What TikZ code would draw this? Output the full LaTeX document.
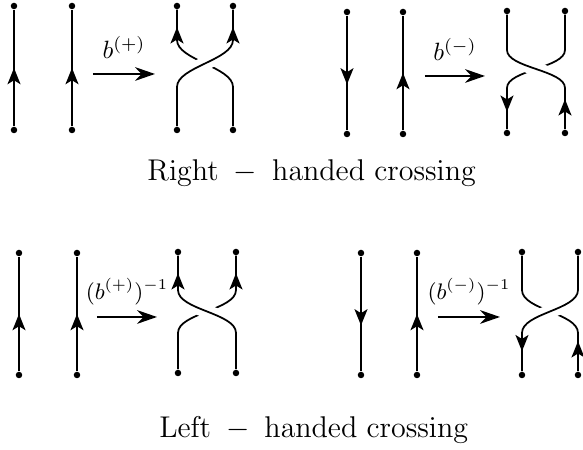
\documentclass[tikz,border=0pt]{standalone}
\usepackage{amsmath,amssymb}
\usepackage{tikz}
\usetikzlibrary{arrows.meta,decorations.markings}

\begin{document}
\begin{tikzpicture}[x=0.4pt,y=-0.4pt,
  dot/.style={circle,fill=black,inner sep=0pt,minimum size=2.6pt},
  strand/.style={line width=0.7pt},
  over/.style={strand,preaction={draw=white,line width=5.5pt}},
  tipat/.style={postaction={decorate,decoration={markings,
    mark=at position #1 with {\arrow{Stealth[length=6.5pt,width=5.2pt,inset=1.6pt]}}}}},
  map/.style={line width=0.8pt,-{Stealth[length=8pt,width=5.5pt]}},
  label/.style={above=1pt,font=\fontsize{9}{11}\selectfont},
  caption/.style={font=\fontsize{11.5}{13}\selectfont,anchor=base}]
\useasboundingbox (0,0) rectangle (583,450);

% top row: two straight strands, both up
\node[dot] (a1t) at (14,6) {};   \node[dot] (a1b) at (14,130) {};
\node[dot] (a2t) at (72,6) {};   \node[dot] (a2b) at (72,130) {};
\draw[strand,tipat=0.5] (a1b) -- (a1t);
\draw[strand,tipat=0.5] (a2b) -- (a2t);

\coordinate (m1s) at (93,74);
\coordinate (m1e) at (155,74);
\draw[map] (m1s) -- node[above=2.5pt] {$b^{(+)}$} (m1e);

% right-handed crossing, positive
\node[dot] (c1tl) at (177,6) {};  \node[dot] (c1tr) at (233,6) {};
\node[dot] (c1bl) at (177,130) {}; \node[dot] (c1br) at (233,130) {};
\draw[strand,tipat=-7pt] (c1br) -- (233,87) .. controls (233,67) and (177,60) .. (177,40) -- (c1tl);
\draw[over,tipat=-7pt] (c1bl) -- (177,87) .. controls (177,67) and (233,60) .. (233,40) -- (c1tr);

% top row: down and up
\node[dot] (b1t) at (347,12) {};  \node[dot] (b1b) at (347,134) {};
\node[dot] (b2t) at (403,12) {};  \node[dot] (b2b) at (403,134) {};
\draw[strand,tipat=0.6] (b1t) -- (b1b);
\draw[strand,tipat=0.5] (b2b) -- (b2t);

\coordinate (m2s) at (425,76);
\coordinate (m2e) at (485,76);
\draw[map] (m2s) -- node[above=2.5pt] {$b^{(-)}$} (m2e);

% right-handed crossing, negative
\node[dot] (c2tl) at (507,11) {};  \node[dot] (c2tr) at (565,11) {};
\node[dot] (c2bl) at (507,133) {}; \node[dot] (c2br) at (565,133) {};
\draw[strand,tipat=-7pt] (c2tr) -- (565,50) .. controls (565,68) and (507,70) .. (507,88) -- (c2bl);
\draw[over,tipat=12pt] (c2br) -- (565,88) .. controls (565,70) and (507,68) .. (507,50) -- (c2tl);

\node[caption] (rh) at (312,181) {$\mathrm{Right\;-\;handed\ crossing}$};

% bottom row: two straight strands, both up
\node[dot] (d1t) at (19,253) {};  \node[dot] (d1b) at (19,375) {};
\node[dot] (d2t) at (77,253) {};  \node[dot] (d2b) at (77,375) {};
\draw[strand,tipat=0.5] (d1b) -- (d1t);
\draw[strand,tipat=0.5] (d2b) -- (d2t);

\coordinate (m3s) at (97,317);
\coordinate (m3e) at (157,317);
\draw[map] (m3s) -- node[label] {$(b^{(+)})^{-1}$} (m3e);

% left-handed crossing, positive
\node[dot] (c3tl) at (178,252) {}; \node[dot] (c3tr) at (236,252) {};
\node[dot] (c3bl) at (178,373) {}; \node[dot] (c3br) at (236,373) {};
\draw[strand,tipat=-7pt] (c3bl) -- (178,333) .. controls (178,313) and (236,310) .. (236,290) -- (c3tr);
\draw[over,tipat=-7pt] (c3br) -- (236,333) .. controls (236,313) and (178,310) .. (178,290) -- (c3tl);

% bottom row: down and up
\node[dot] (e1t) at (361,253) {};  \node[dot] (e1b) at (361,375) {};
\node[dot] (e2t) at (417,253) {};  \node[dot] (e2b) at (417,375) {};
\draw[strand,tipat=0.6] (e1t) -- (e1b);
\draw[strand,tipat=0.5] (e2b) -- (e2t);

\coordinate (m4s) at (438,317);
\coordinate (m4e) at (500,317);
\draw[map] (m4s) -- node[label] {$(b^{(-)})^{-1}$} (m4e);

% left-handed crossing, negative
\node[dot] (c4tl) at (522,252) {}; \node[dot] (c4tr) at (578,252) {};
\node[dot] (c4bl) at (522,375) {}; \node[dot] (c4br) at (578,375) {};
\draw[strand,tipat=12pt] (c4br) -- (578,333) .. controls (578,313) and (522,310) .. (522,290) -- (c4tl);
\draw[over,tipat=-8pt] (c4tr) -- (578,290) .. controls (578,310) and (522,313) .. (522,333) -- (c4bl);

\node[caption] (lh) at (314,438) {$\mathrm{Left\;-\;handed\ crossing}$};
\end{tikzpicture}
\end{document}
